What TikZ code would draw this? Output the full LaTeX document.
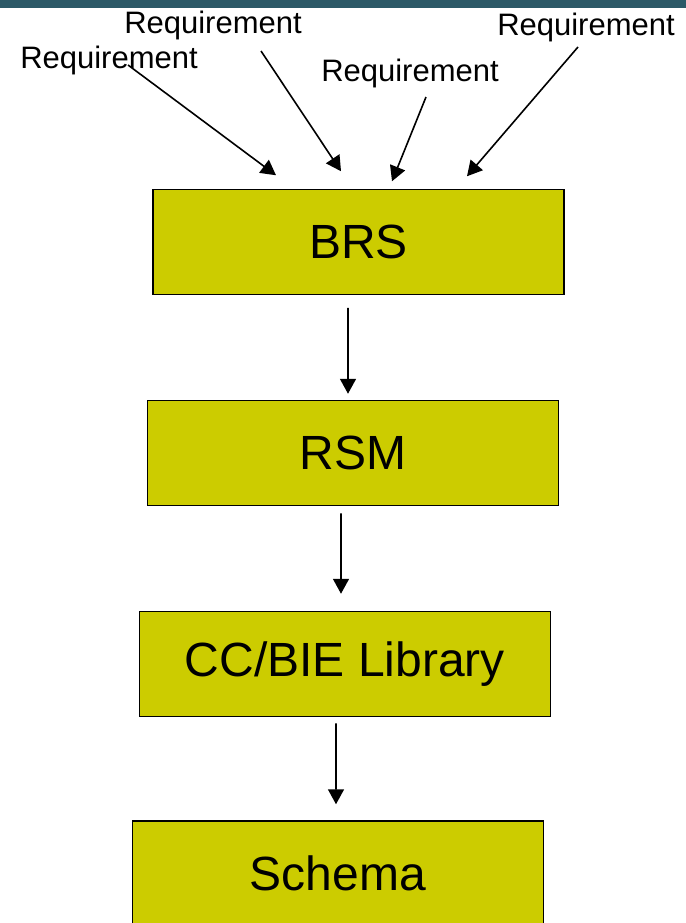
\documentclass[tikz,border=0pt]{standalone}
\usepackage{fontspec}
\setmainfont{Liberation Sans}
\usetikzlibrary{arrows.meta}
\definecolor{boxfill}{HTML}{CCCC00}
\definecolor{topbar}{HTML}{2C5967}
\tikzset{
    stage/.style={draw=black,fill=boxfill,line width=1.5bp,inner sep=0pt,
        minimum width=411bp,minimum height=105bp,
        font=\fontsize{48bp}{58bp}\selectfont},
    req/.style={inner sep=0pt,anchor=base,font=\fontsize{31bp}{37bp}\selectfont},
    flow/.style={-{Triangle[length=15bp,width=16bp]},line width=1.6bp}
}
\begin{document}
\begin{tikzpicture}[x=1bp,y=-1bp]
    \useasboundingbox (0,0) rectangle (686,923);
    \fill[topbar] (0,0) rectangle (686,8);

    \node[stage] (brs) at (358.5,242) {BRS};
    \node[stage] (rsm) at (353,453) {RSM};
    \node[stage] (lib) at (345,664) {CC/BIE Library};
    \node[stage] (schema) at (338,873.5) {Schema};

    \node[req] (r1) at (109,68) {Requirement};
    \node[req] (r2) at (213,33) {Requirement};
    \node[req] (r3) at (410,81) {Requirement};
    \node[req] (r4) at (586,35) {Requirement};

    %% requirements into the BRS
    \draw[flow] ([xshift=19bp,yshift=3bp]r1.base) -- ([xshift=-82.5bp,yshift=13.5bp]brs.north);
    \draw[flow] ([xshift=48bp,yshift=-18bp]r2.base) -- ([xshift=-17.5bp,yshift=17.5bp]brs.north);
    \draw[flow] ([xshift=16bp,yshift=-16bp]r3.base) -- ([xshift=33.5bp,yshift=7.5bp]brs.north);
    \draw[flow] ([xshift=-8bp,yshift=-12bp]r4.base) -- ([xshift=108.5bp,yshift=12.5bp]brs.north);

    \draw[flow] ([xshift=-10.5bp,yshift=-12.5bp]brs.south) -- ([xshift=-5bp,yshift=6bp]rsm.north);
    \draw[flow] ([xshift=-12bp,yshift=-7bp]rsm.south) -- ([xshift=-4bp,yshift=17bp]lib.north);
    \draw[flow] ([xshift=-9bp,yshift=-6bp]lib.south) -- ([xshift=-2bp,yshift=16bp]schema.north);
\end{tikzpicture}
\end{document}
